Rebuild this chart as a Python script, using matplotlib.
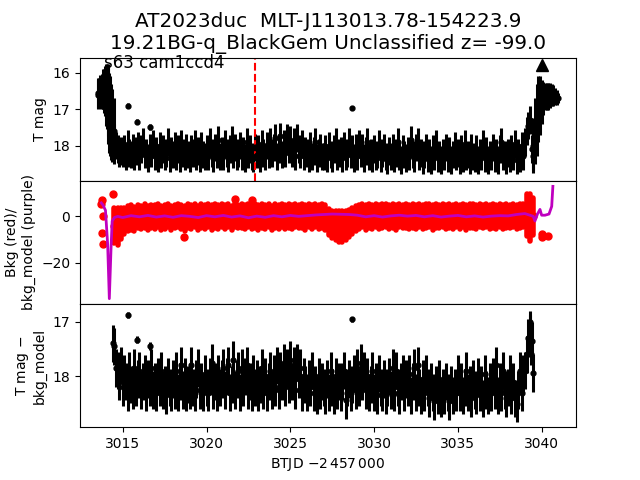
import numpy as np
import matplotlib
matplotlib.use('Agg')
from matplotlib import pyplot as plt

# TESS light curve, uniform 0.1 d cadence for the main band
t_band = np.round(np.arange(3014.4, 3039.55, 0.1), 1)

# T mag (top panel), 3014.4 .. 3039.5
mag_band = [
    17.6, 17.8, 18.0, 18.1, 18.2, 18.15,
    18.2, 18.1, 18.3, 17.95, 18.2, 18.25, 18.05, 18.3, 18.15, 18.0,
    18.3, 18.1, 17.9, 18.25, 18.2, 18.35, 18.05, 18.2, 17.95, 18.3,
    18.15, 18.35, 18.0, 18.25, 18.1, 18.3, 18.2, 17.9, 18.35, 18.15,
    18.25, 18.0, 18.3, 18.1, 18.35, 17.95, 18.2, 18.3, 18.05, 18.25,
    18.35, 18.1, 18.2, 17.95, 18.3, 18.15, 18.35, 18.0, 18.25, 18.3,
    18.1, 18.3, 17.9, 18.2, 18.35, 18.05, 18.25, 17.85, 18.3, 18.15,
    18.3, 17.95, 18.2, 18.35, 18.1, 17.85, 18.25, 18.05, 18.3, 18.2,
    18.0, 18.3, 18.15, 18.35, 17.9, 18.25, 18.1, 18.3, 18.35, 18.05,
    18.25, 18.1, 18.35, 17.95, 18.2, 18.3, 18.0, 18.25, 17.9, 18.2,
    18.05, 17.8, 18.3, 18.1, 17.75, 18.25, 17.95, 18.2, 17.8, 18.1,
    17.85, 18.2, 17.9, 18.3, 17.8, 18.1, 18.25, 17.95, 18.3, 18.15,
    18.2, 18.35, 18.0, 18.3, 18.15, 17.9, 18.35, 18.2, 18.05, 18.3,
    18.3, 18.1, 18.35, 18.0, 18.25, 18.35, 18.1, 17.9, 18.3, 18.2,
    18.15, 18.35, 18.0, 18.3, 18.2, 17.9, 18.25, 18.1, 18.35, 18.05,
    18.3, 17.95, 18.2, 18.05, 18.35, 18.15, 17.9, 18.3, 18.2, 18.35,
    18.1, 18.3, 18.25, 17.95, 18.35, 18.2, 18.05, 18.3, 18.4, 18.15,
    18.3, 18.05, 18.35, 18.2, 17.9, 18.3, 18.4, 18.1, 18.25, 18.35,
    18.15, 18.3, 17.85, 18.25, 18.35, 18.05, 17.9, 18.3, 18.2, 18.4,
    18.25, 18.05, 18.35, 18.2, 18.4, 18.1, 18.3, 17.95, 18.35, 18.25,
    18.4, 18.2, 18.3, 18.05, 18.35, 18.15, 18.4, 18.25, 18.0, 18.3,
    18.2, 18.4, 18.1, 18.35, 17.95, 18.3, 18.25, 18.4, 18.05, 18.3,
    18.35, 18.1, 18.4, 18.2, 18.3, 17.95, 18.35, 18.15, 18.4, 18.25,
    18.3, 18.05, 18.35, 18.2, 18.4, 18.1, 17.9, 18.3, 18.25, 18.4,
    18.2, 18.35, 18.1, 18.3, 17.95, 18.4, 18.2, 18.35, 18.0, 18.3,
    17.9, 17.6, 17.45, 17.3, 18.1, 18.3,
]
mag_err = 0.38

# bright start and end of the sector (top panel)
t_start = [3013.5, 3013.55, 3013.6, 3013.65, 3013.7, 3013.75, 3013.8, 3013.85,
           3013.9, 3013.95, 3014.0, 3014.05, 3014.1, 3014.15, 3014.2, 3014.25,
           3014.3, 3014.35, 3014.45]
mag_start = [16.6, 16.55, 16.55, 16.5, 16.55, 16.5, 16.5, 16.45,
             16.5, 16.5, 16.6, 16.65, 16.75, 16.9, 17.1, 17.2,
             17.35, 17.45, 17.6]
err_start = [0.4, 0.42, 0.42, 0.44, 0.45, 0.48, 0.5, 0.55,
             0.6, 0.7, 0.85, 0.9, 1.0, 1.05, 1.1, 1.1,
             1.05, 1.0, 0.9]
t_end = [3039.5, 3039.6, 3039.7, 3039.8, 3039.9, 3040.0, 3040.1, 3040.2,
         3040.3, 3040.4, 3040.5, 3040.6, 3040.7, 3040.8, 3040.9, 3041.0]
mag_end = [18.0, 17.6, 17.3, 17.0, 16.9, 16.8, 16.7, 16.65,
           16.65, 16.65, 16.62, 16.6, 16.62, 16.65, 16.68, 16.7]
err_end = [0.75, 0.9, 1.0, 0.9, 0.8, 0.6, 0.45, 0.38,
           0.38, 0.37, 0.34, 0.3, 0.28, 0.24, 0.2, 0.14]
t_peak, mag_peak = [3040.0], [15.78]

# isolated bright points
t_out = [3015.3, 3015.84, 3016.6, 3028.69]
mag_out = [16.9, 17.34, 17.49, 16.97]
mag_out_err = [0.06, 0.08, 0.08, 0.06]

t_mark = 3022.87

# T mag - bkg_model (bottom panel), same times as t_band
diff_band = [
    17.4, 17.45, 17.85, 17.9, 18.1, 17.8,
    18.2, 17.95, 18.1, 18.3, 17.9, 18.15, 18.25, 17.85, 18.2, 18.05,
    17.9, 18.25, 18.1, 17.95, 18.3, 18.05, 18.2, 17.85, 18.25, 18.1,
    18.3, 18.0, 18.2, 17.9, 18.25, 18.15, 18.35, 18.0, 18.2, 18.3,
    18.05, 18.25, 17.9, 18.3, 18.1, 17.8, 18.25, 18.0, 18.3, 18.15,
    18.25, 17.8, 18.2, 18.3, 18.05, 17.85, 18.25, 18.1, 18.3, 17.95,
    18.2, 18.3, 18.0, 17.75, 18.25, 18.1, 18.3, 17.95, 18.2, 18.05,
    17.85, 18.25, 18.0, 17.8, 18.3, 18.15, 17.7, 18.25, 18.05, 17.9,
    18.3, 17.85, 18.2, 18.0, 17.8, 18.25, 18.1, 18.3, 17.95, 18.2,
    18.05, 18.3, 18.15, 17.85, 18.25, 18.0, 18.3, 18.1, 17.9, 18.25,
    17.95, 18.2, 17.8, 18.25, 17.9, 18.1, 17.75, 18.2, 17.85, 18.15,
    17.7, 18.1, 17.8, 18.25, 17.75, 18.05, 17.85, 18.3, 18.0, 18.15,
    18.3, 18.05, 18.2, 17.9, 18.3, 18.15, 18.35, 18.0, 18.25, 18.1,
    18.2, 18.35, 18.05, 18.3, 17.9, 18.2, 18.35, 18.0, 18.25, 18.1,
    18.3, 18.1, 17.9, 18.44, 18.2, 18.05, 18.3, 18.15, 17.95, 18.25,
    17.85, 18.2, 17.75, 18.1, 17.9, 18.25, 18.0, 18.3, 18.15, 17.9,
    18.3, 18.1, 18.35, 17.95, 18.2, 18.3, 18.05, 18.35, 18.2, 18.0,
    18.25, 17.85, 18.3, 17.9, 18.2, 18.35, 18.1, 17.95, 18.3, 18.05,
    18.2, 17.95, 18.35, 18.1, 17.85, 18.3, 17.8, 18.2, 18.35, 18.05,
    18.3, 17.95, 18.2, 18.4, 18.1, 18.3, 18.45, 18.15, 18.35, 18.05,
    18.4, 18.2, 18.35, 18.1, 18.3, 18.45, 18.15, 18.35, 18.2, 18.3,
    17.95, 18.3, 18.1, 18.35, 18.2, 17.9, 18.3, 18.15, 18.4, 18.05,
    18.25, 18.35, 18.0, 18.3, 18.15, 18.4, 17.95, 18.25, 18.35, 18.1,
    18.3, 18.0, 18.25, 17.8, 18.35, 18.1, 18.3, 17.9, 18.25, 18.4,
    18.2, 17.95, 18.35, 18.1, 18.4, 18.5, 18.25, 17.9, 18.3, 17.95,
    17.9, 17.6, 17.3, 17.15, 17.35, 17.94,
]
diff_err = 0.34
t_diff_out = [3015.3, 3015.84, 3016.6, 3028.69, 3039.3, 3039.33, 3039.36]
diff_out = [16.88, 17.33, 17.45, 16.96, 17.0, 17.3, 17.6]
diff_out_err = [0.05, 0.07, 0.07, 0.05, 0.12, 0.15, 0.2]

# background flux (red), 0.2 d cadence
t_bkg = np.round(np.arange(3014.5, 3039.55, 0.2), 1)
bkg = [
    -4.0, -4.5, -3.0,
    -2.0, -1.0, -0.5, -1.0, 0.0,
    -0.5, 0.2, -0.8, 0.0, -0.3,
    0.3, -0.6, -0.2, 0.4, -0.7,
    -0.1, 0.5, -0.4, -0.9, 0.2,
    -0.3, 0.3, -0.7, 0.1, -0.2,
    0.4, -0.5, 0.2, -0.3, 0.5,
    -0.2, 0.3, -0.6, 0.6, -0.1,
    0.2, -0.4, 0.5, -0.2, 0.3,
    -0.5, 0.1, -0.3, 0.4, -0.6,
    0.2, -0.2, 0.5, -0.4, 0.1,
    -0.3, 0.4, -0.1, 0.2, -0.5,
    0.3, -0.2, 0.4, -0.4, 0.2,
    -0.5, -2.5, -3.5, -4.0, -4.5,
    -4.5, -4.0, -3.0, -2.0, -0.8,
    -0.3, 0.4, -0.5, 0.2, -0.2,
    0.3, -0.4, 0.1, 0.5, -0.3,
    0.2, -0.5, 0.4, -0.1, 0.3,
    -0.4, 0.2, -0.2, 0.5, -0.3,
    0.1, 0.4, -0.5, 0.2, -0.1,
    0.3, -0.3, 0.2, -0.4, 0.4,
    -0.2, 0.3, -0.5, 0.1, 0.2,
    -0.3, 0.4, -0.1, 0.3, -0.4,
    0.2, -0.2, 0.4, -0.3, 0.1,
    -0.1, 0.3, -0.4, 0.2, 0.5,
    0.5, -0.5, 0.0,
]
bkg_err = [
    7.5, 8.0, 6.8,
    5.8, 5.4, 5.2, 5.2, 5.1,
    5.1, 5.0, 5.2, 5.1, 5.1,
    5.0, 5.2, 5.1, 5.0, 5.2,
    5.1, 5.0, 5.2, 5.2, 5.1,
    5.1, 5.0, 5.2, 5.1, 5.1,
    5.0, 5.2, 5.1, 5.1, 5.0,
    5.1, 5.0, 5.2, 5.0, 5.1,
    5.1, 5.2, 5.0, 5.1, 5.1,
    5.2, 5.1, 5.1, 5.0, 5.2,
    5.1, 5.1, 5.0, 5.2, 5.1,
    5.1, 5.0, 5.1, 5.1, 5.2,
    5.0, 5.1, 5.0, 5.2, 5.1,
    5.3, 5.6, 6.0, 6.3, 6.6,
    6.6, 6.3, 5.8, 5.6, 5.3,
    5.1, 5.0, 5.2, 5.1, 5.1,
    5.0, 5.2, 5.1, 5.0, 5.1,
    5.1, 5.2, 5.0, 5.1, 5.1,
    5.2, 5.1, 5.1, 5.0, 5.1,
    5.1, 5.0, 5.2, 5.1, 5.1,
    5.0, 5.1, 5.1, 5.2, 5.0,
    5.1, 5.0, 5.2, 5.1, 5.1,
    5.1, 5.0, 5.1, 5.0, 5.2,
    5.1, 5.1, 5.0, 5.1, 5.1,
    5.1, 5.0, 5.2, 5.1, 5.0,
    9.0, 10.0, 8.0,
]
t_bkg_out = [3013.7, 3013.75, 3013.8, 3013.78, 3013.82, 3014.44, 3018.63,
             3021.68, 3022.7, 3040.0, 3040.05, 3040.4]
bkg_out = [5.5, 7.0, 0.0, -7.0, -11.7, 9.6, -9.0, 7.5, 7.0, -7.5, -9.0, -8.5]

# background model (purple)
t_model = [3013.72, 3013.82, 3013.97, 3014.1, 3014.2, 3014.3, 3014.37, 3014.5,
           3014.7, 3015.0, 3015.5, 3016.0, 3016.5, 3017.0, 3017.5, 3018.0,
           3018.5, 3019.0, 3019.5, 3020.0, 3020.5, 3021.0, 3021.5, 3022.0,
           3022.5, 3023.0, 3023.5, 3024.0, 3024.5, 3025.0, 3025.5, 3026.0,
           3026.5, 3027.0, 3027.5, 3028.0, 3028.5, 3029.0, 3029.5, 3030.0,
           3030.5, 3031.0, 3031.5, 3032.0, 3032.5, 3033.0, 3033.5, 3034.0,
           3034.5, 3035.0, 3035.5, 3036.0, 3036.5, 3037.0, 3037.5, 3038.0,
           3038.5, 3039.0, 3039.3, 3039.5, 3039.6, 3039.75, 3039.9, 3040.0,
           3040.2, 3040.44, 3040.6, 3040.67]
model = [5.8, 4.9, 2.6, -12.0, -35.4, -14.0, -2.0, -0.5,
         0.0, -0.5, 0.3, -0.2, 0.4, -0.3, 0.2, -0.4,
         0.3, 0.0, -0.5, 0.3, -0.2, 0.4, -0.3, 0.2,
         -0.6, 0.1, -0.4, 0.3, -0.2, 0.4, 0.0, 0.3,
         0.6, 0.8, 1.0, 0.9, 0.8, 0.5, -0.2, 0.3,
         -0.3, 0.2, 0.5, 0.1, 0.4, -0.2, 0.3, -0.3,
         0.1, 0.4, -0.2, 0.2, -0.3, 0.1, 0.3, 0.2,
         0.8, 1.2, 0.5, 0.0, -2.0, 1.0, 3.0, 0.5,
         0.5, 1.0, 4.3, 12.9]

fig, axes = plt.subplots(3, 1, sharex=True, figsize=(6.4, 4.8))
plt.subplots_adjust(hspace=0)
ax1, ax2, ax3 = axes

eb = dict(fmt='o', color='k', ms=3.5, elinewidth=2.2, capsize=0)
ax1.errorbar(t_band, mag_band, yerr=mag_err, **eb)
ax1.errorbar(t_start, mag_start, yerr=err_start, **eb)
ax1.errorbar(t_end, mag_end, yerr=err_end, **eb)
ax1.errorbar(t_out, mag_out, yerr=mag_out_err, **eb)
ax1.plot(t_peak, mag_peak, '^', color='k', ms=9)
ax1.axvline(t_mark, color='r', ls='--', lw=1.5)
ax1.set_ylim(18.97, 15.58)
ax1.set_yticks([16, 17, 18])
ax1.set_ylabel('T mag')
ax1.text(3013.9, 15.72, 's63 cam1ccd4', fontsize=12, va='center')
ax1.set_title('AT2023duc  MLT-J113013.78-154223.9\n'
              '19.21BG-q_BlackGem Unclassified z= -99.0', fontsize=14.4)

red = ax2.errorbar(t_bkg, bkg, yerr=bkg_err, fmt='o', color='r', ms=5,
                   elinewidth=4, capsize=0)
red[2][0].set_capstyle('round')
ax2.plot(t_bkg_out, bkg_out, 'o', color='r', ms=5)
ax2.plot(t_model, model, color='m', lw=2, zorder=5)
ax2.set_ylim(-37.7, 15.3)
ax2.set_yticks([0, -20])
ax2.set_ylabel('Bkg (red)/\nbkg_model (purple)')

ax3.errorbar(t_band, diff_band, yerr=diff_err, **eb)
ax3.errorbar(t_diff_out, diff_out, yerr=diff_out_err, **eb)
ax3.set_ylim(18.93, 16.68)
ax3.set_yticks([17, 18])
ax3.set_ylabel('T mag $-$\nbkg_model')
ax3.set_xlim(3012.45, 3042.05)
ax3.set_xlabel(r'BTJD $-2\,457\,000$')

plt.savefig('out.png')
